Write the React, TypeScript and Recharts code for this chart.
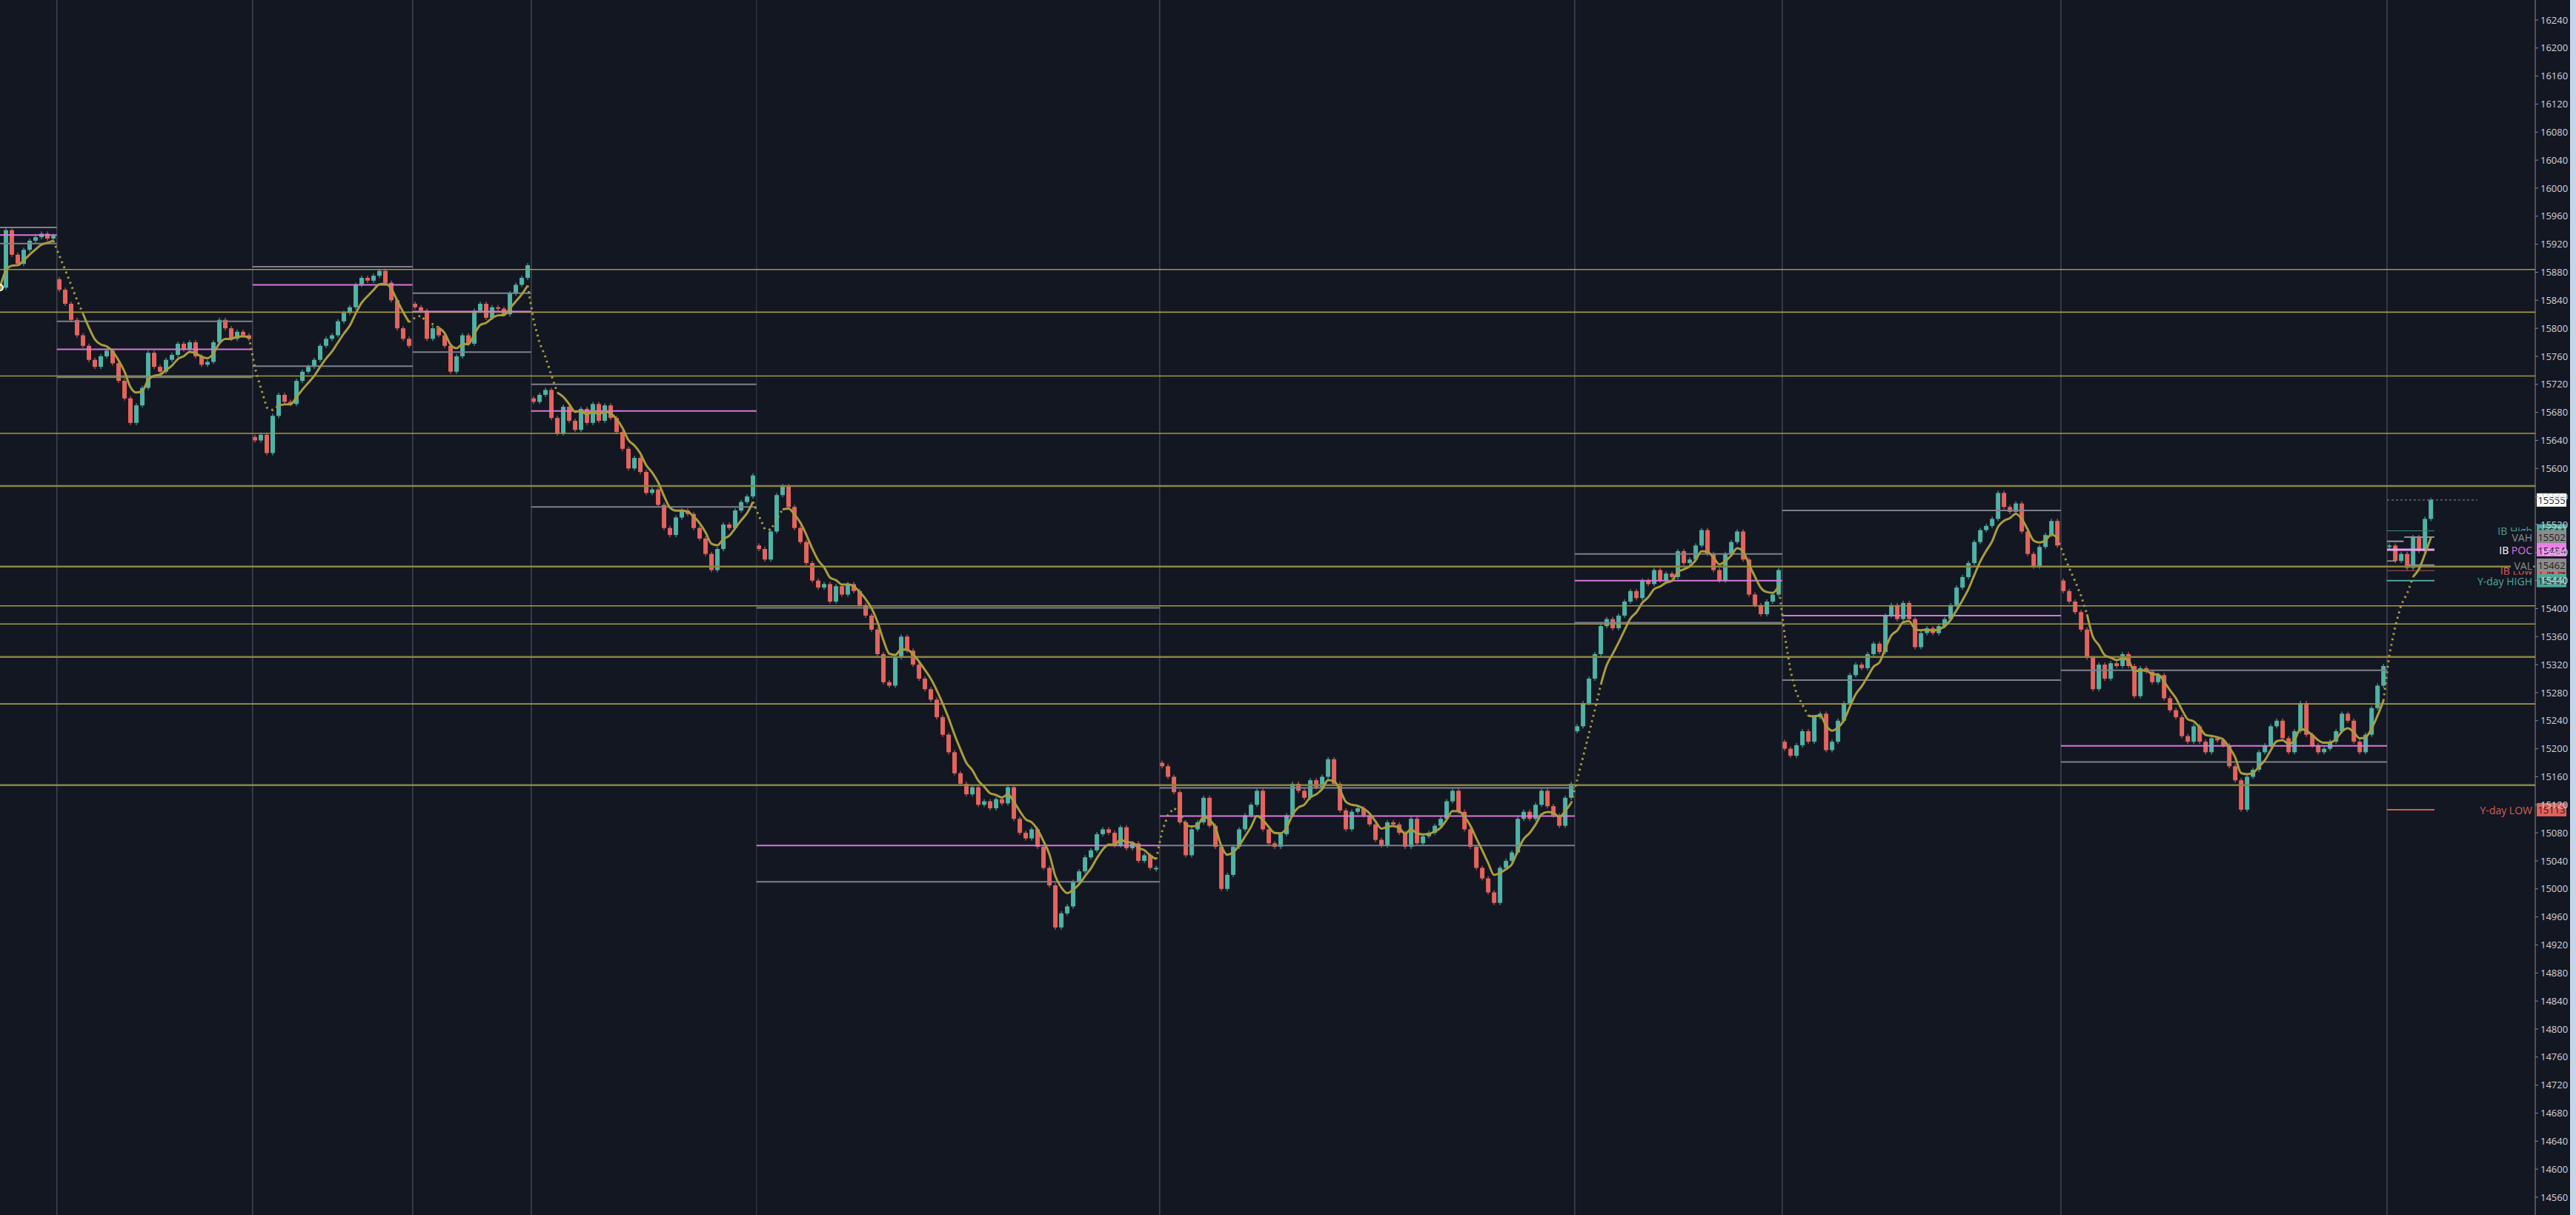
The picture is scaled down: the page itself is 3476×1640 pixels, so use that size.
import React from "react";
import { Bar, ComposedChart, Line, ReferenceLine, XAxis, YAxis } from "recharts";

// closes per session (one value per ~8px of chart)
const session0 = [15858, 15940, 15905, 15892, 15912, 15925, 15930, 15935, 15928, 15932];
const session1 = [15855, 15835, 15812, 15790, 15775, 15755, 15745, 15760, 15768, 15750, 15725, 15700, 15665, 15690, 15715, 15765, 15745, 15738, 15755, 15762, 15778, 15770, 15780, 15760, 15748, 15752, 15780, 15812, 15800, 15785, 15795, 15790, 15785];
const session2 = [15640, 15648, 15622, 15675, 15705, 15695, 15692, 15725, 15738, 15745, 15755, 15775, 15785, 15790, 15810, 15822, 15830, 15862, 15872, 15868, 15875, 15882, 15865, 15840, 15800, 15785, 15775];
const session3 = [15830, 15825, 15785, 15800, 15790, 15775, 15738, 15760, 15790, 15778, 15825, 15835, 15815, 15830, 15828, 15820, 15850, 15862, 15872, 15890];
const session4 = [15695, 15705, 15712, 15672, 15650, 15688, 15668, 15655, 15685, 15665, 15692, 15668, 15690, 15672, 15652, 15628, 15600, 15615, 15595, 15565, 15570, 15548, 15515, 15505, 15530, 15540, 15535, 15515, 15500, 15478, 15455, 15485, 15520, 15515, 15540, 15552, 15560, 15590];
const session5 = [15485, 15470, 15510, 15562, 15575, 15545, 15515, 15495, 15465, 15440, 15430, 15435, 15410, 15432, 15420, 15435, 15425, 15405, 15390, 15370, 15335, 15295, 15290, 15330, 15360, 15340, 15320, 15300, 15285, 15270, 15245, 15220, 15195, 15165, 15150, 15135, 15145, 15120, 15125, 15115, 15128, 15122, 15145, 15100, 15080, 15072, 15085, 15060, 15030, 15005, 14945, 14965, 14975, 15010, 15025, 15045, 15055, 15078, 15085, 15080, 15062, 15088, 15058, 15065, 15040, 15048, 15030, 15030];
const session6 = [15175, 15160, 15138, 15095, 15048, 15085, 15095, 15130, 15090, 15060, 15000, 15020, 15060, 15085, 15105, 15120, 15140, 15085, 15065, 15060, 15078, 15105, 15150, 15140, 15130, 15155, 15145, 15160, 15185, 15150, 15112, 15085, 15110, 15115, 15105, 15092, 15070, 15062, 15095, 15092, 15080, 15060, 15100, 15065, 15075, 15080, 15090, 15100, 15125, 15140, 15110, 15085, 15060, 15030, 15015, 14995, 14980, 15030, 15040, 15052, 15100, 15110, 15100, 15120, 15140, 15118, 15105, 15090, 15130, 15150];
const session7 = [15232, 15265, 15300, 15335, 15375, 15385, 15372, 15390, 15410, 15425, 15415, 15440, 15435, 15455, 15440, 15450, 15445, 15482, 15465, 15470, 15490, 15512, 15478, 15455, 15440, 15478, 15495, 15510, 15470, 15420, 15405, 15392, 15410, 15420, 15455];
const session8 = [15200, 15190, 15205, 15225, 15210, 15245, 15250, 15198, 15210, 15240, 15265, 15305, 15320, 15315, 15335, 15350, 15338, 15390, 15405, 15385, 15408, 15385, 15345, 15365, 15372, 15365, 15375, 15385, 15405, 15430, 15445, 15465, 15495, 15512, 15518, 15528, 15565, 15545, 15538, 15550, 15510, 15478, 15460, 15488, 15505, 15525, 15490];
const session9 = [15425, 15410, 15395, 15370, 15330, 15285, 15320, 15300, 15322, 15318, 15335, 15318, 15275, 15315, 15310, 15295, 15305, 15272, 15255, 15245, 15218, 15210, 15232, 15210, 15195, 15215, 15212, 15205, 15175, 15155, 15113, 15160, 15170, 15195, 15205, 15232, 15240, 15215, 15195, 15225, 15265, 15220, 15205, 15195, 15200, 15210, 15225, 15250, 15240, 15210, 15195, 15220, 15258, 15290, 15318];
const session10 = [15490, 15468, 15478, 15458, 15502, 15482, 15528, 15555];
const sessionOpens = [15862, 15870, 15645, 15835, 15700, 15490, 15180, 15225, 15210, 15440, 15488];

// per finished session: VAH, POC, VAL
const valueAreas = [
  [15944, 15933, 15921],
  [15810, 15770, 15730],
  [15888, 15862, 15746],
  [15850, 15824, 15766],
  [15720, 15682, 15545],
  [15401, 15062, 15010],
  [15144, 15104, 15062],
  [15478, 15440, 15380],
  [15540, 15390, 15298],
  [15312, 15204, 15181],
];
const todayVA = [15502, 15484, 15462];
const ibLevels = [15511, 15454];
const ibBoxMarks = [15496, 15468];
const yDayLevels = [15440, 15113];
const majorLevels = [15575, 15460, 15331, 15148];
const minorLevels = [15884, 15823, 15732, 15650, 15404, 15378, 15264];
const priceTicks = [16240, 16200, 16160, 16120, 16080, 16040, 16000, 15960, 15920, 15880, 15840, 15800, 15760, 15720, 15680, 15640, 15600, 15560, 15520, 15480, 15440, 15400, 15360, 15320, 15280, 15240, 15200, 15160, 15120, 15080, 15040, 15000, 14960, 14920, 14880, 14840, 14800, 14760, 14720, 14680, 14640, 14600, 14560];

const sessions = [session0, session1, session2, session3, session4, session5, session6, session7, session8, session9, session10];

const CHART_W = 3468;
const CHART_H = 1640;
const AXIS_W = 47;
const PLOT_R = CHART_W - AXIS_W;
const X_MAX = 427.6;
const Y_MIN = 14534.6;
const Y_MAX = 16268.5;

const BG = "#131722";
const UP = "#4fb3a5";
const DOWN = "#e5645e";
const MA = "#a99d3d";
const GRAY = "#7e818b";
const PINK = "#d878d8";
const FONT = "'Open Sans', 'Noto Sans', sans-serif";

const starts: number[] = [];
const rows: any[] = [];
sessions.forEach((closes, s) => {
  starts.push(rows.length);
  closes.forEach((c, k) => {
    const open = k === 0 ? sessionOpens[s] : closes[k - 1];
    rows.push({ i: rows.length, open, close: c, body: [Math.min(open, c), Math.max(open, c)], up: c >= open });
  });
});
const lastIdx = rows.length;

// moving average of the closes; drawn dotted right after each session gap
let ema = rows[0].close;
const gap = new Set<number>();
starts.slice(1).forEach((s) => {
  for (let k = s; k < s + 4; k++) gap.add(k);
});
rows.forEach((r, k) => {
  ema = k === 0 ? r.close : ema + 0.3 * (r.close - ema);
  r.maSolid = gap.has(k) ? null : ema;
  r.maDot = gap.has(k) || gap.has(k + 1) || gap.has(k - 1) ? ema : null;
});

const Candle = (props: any) => {
  const { x, y, width, height, payload } = props;
  if (x == null || y == null) return null;
  const top = Math.min(y, y + height);
  const h = Math.max(Math.abs(height), 2);
  const color = payload.up ? UP : DOWN;
  return (
    <g>
      <rect x={x + width / 2 - 0.75} y={top - 3} width={1.5} height={h + 6} fill={color} opacity={0.7} />
      <rect x={x} y={top} width={width} height={h} fill={color} />
    </g>
  );
};

type Part = { t: string; c: string };
const tag = (parts: Part[], box: string, boxText: string, value: number, labelW = 0) => (props: any) => {
  const vb = props.viewBox || {};
  const cy = (vb.y ?? 0) + (vb.height ?? 0) / 2;
  return (
    <g fontFamily={FONT}>
      {parts.length > 0 && labelW > 0 && <rect x={PLOT_R - 3 - labelW} y={cy - 8} width={labelW} height={16} fill={BG} />}
      {parts.length > 0 && (
        <text x={PLOT_R - 4} y={cy} textAnchor="end" dominantBaseline="central" fontSize={14}>
          {parts.map((p, k) => (
            <tspan key={k} fill={p.c}>
              {p.t}
            </tspan>
          ))}
        </text>
      )}
      <rect x={PLOT_R + 2} y={cy - 9} width={40} height={18} fill={box} />
      <text x={PLOT_R + 22} y={cy + 0.5} textAnchor="middle" dominantBaseline="central" fontSize={13} fill={boxText}>
        {value}
      </text>
    </g>
  );
};

const seg = (x1: number, x2: number, y: number) => [
  { x: x1, y },
  { x: x2, y },
];

export default function App() {
  const sEnd = (s: number) => (s + 1 < starts.length ? starts[s + 1] : lastIdx) - 0.4;
  const t0 = starts[10] - 0.4;
  const tEnd = lastIdx - 0.4;
  return (
    <div style={{ position: "fixed", left: 0, top: 0, width: 3476, height: 1640, background: "#c6d6e9" }}>
      <div style={{ width: CHART_W, height: CHART_H, background: BG, fontFamily: FONT }}>
        <ComposedChart width={CHART_W} height={CHART_H} data={rows} margin={{ top: 0, right: 0, bottom: 0, left: 0 }}>
          <XAxis type="number" dataKey="i" domain={[0, X_MAX]} hide allowDataOverflow />
          <YAxis
            orientation="right"
            type="number"
            domain={[Y_MIN, Y_MAX]}
            ticks={priceTicks}
            interval={0}
            width={AXIS_W}
            allowDataOverflow
            tickSize={4}
            tickMargin={3}
            axisLine={{ stroke: "#8a8d96" }}
            tickLine={{ stroke: "#8a8d96" }}
            tick={{ fill: "#d1d4dc", fontSize: 13, fontFamily: FONT }}
          />

          {starts.slice(1).map((s, k) => (
            <ReferenceLine key={`v${k}`} x={s - 0.4} stroke={s === starts[5] ? "#343845" : "#4d5160"} strokeWidth={1.2} ifOverflow="hidden" />
          ))}
          {minorLevels.map((p) => (
            <ReferenceLine key={`mn${p}`} y={p} stroke="#a49a3c" strokeWidth={1.6} ifOverflow="hidden" />
          ))}
          {majorLevels.map((p) => (
            <ReferenceLine key={`mj${p}`} y={p} stroke="#8c8540" strokeWidth={2.5} ifOverflow="hidden" />
          ))}

          {valueAreas.map(([vah, poc, val], s) => [
            <ReferenceLine key={`vah${s}`} segment={seg(starts[s] - 0.4, sEnd(s), vah)} stroke={GRAY} strokeWidth={2} ifOverflow="hidden" />,
            <ReferenceLine key={`poc${s}`} segment={seg(starts[s] - 0.4, sEnd(s), poc)} stroke={PINK} strokeWidth={2} ifOverflow="hidden" />,
            <ReferenceLine key={`val${s}`} segment={seg(starts[s] - 0.4, sEnd(s), val)} stroke={GRAY} strokeWidth={2} ifOverflow="hidden" />,
          ])}

          <ReferenceLine segment={seg(t0, t0 + 2.8, ibBoxMarks[0])} stroke="#9a9ca3" strokeWidth={2} ifOverflow="hidden" />
          <ReferenceLine segment={seg(t0, t0 + 1.5, ibBoxMarks[1])} stroke="#9a9ca3" strokeWidth={1.5} ifOverflow="hidden" />
          <ReferenceLine
            segment={seg(t0, 417.8, session10[session10.length - 1])}
            stroke="#8f929b"
            strokeDasharray="3 3"
            ifOverflow="visible"
            label={tag([], "#ffffff", "#131722", session10[session10.length - 1])}
          />
          <ReferenceLine
            segment={seg(t0, tEnd, ibLevels[0])}
            stroke="#3d8c80"
            strokeWidth={1.2}
            ifOverflow="hidden"
            label={tag([{ t: "IB High", c: "#45a393" }], "#4fa89a", "#15231f", ibLevels[0])}
          />
          <ReferenceLine
            segment={seg(t0 + 2.9, tEnd, todayVA[0])}
            stroke="#8e9097"
            strokeWidth={2}
            ifOverflow="hidden"
            label={tag([{ t: "VAH", c: "#8e8e8e" }], "#8c8c8c", "#1c1c1c", todayVA[0], 32)}
          />
          <ReferenceLine
            segment={seg(t0, tEnd, todayVA[1])}
            stroke="#f09cf0"
            strokeWidth={3}
            ifOverflow="hidden"
            label={tag([{ t: "IB ", c: "#ffffff" }, { t: "POC", c: "#e173e2" }], "#ea80ea", "#1c1c1c", todayVA[1], 50)}
          />
          <ReferenceLine
            segment={seg(t0, tEnd, ibLevels[1])}
            stroke="#8a4a4a"
            strokeWidth={1.2}
            ifOverflow="hidden"
            label={tag([{ t: "IB Low", c: "#e0605a" }], "#e06b66", "#2a1515", ibLevels[1])}
          />
          <ReferenceLine
            segment={seg(t0 + 3.6, tEnd, todayVA[2])}
            stroke="#8e9097"
            strokeWidth={2}
            ifOverflow="hidden"
            label={tag([{ t: "VAL", c: "#8e8e8e" }], "#8c8c8c", "#1c1c1c", todayVA[2], 30)}
          />
          <ReferenceLine
            segment={seg(t0, tEnd, yDayLevels[0])}
            stroke="#4fa89a"
            strokeWidth={2}
            ifOverflow="hidden"
            label={tag([{ t: "Y-day HIGH", c: "#4fa89a" }], "#4fa89a", "#15231f", yDayLevels[0], 76)}
          />
          <ReferenceLine
            segment={seg(t0, tEnd, yDayLevels[1])}
            stroke="#d0605a"
            strokeWidth={2}
            ifOverflow="hidden"
            label={tag([{ t: "Y-day LOW", c: "#d0605a" }], "#e0625a", "#2a1515", yDayLevels[1])}
          />

          <Bar dataKey="body" barSize={6} shape={Candle} isAnimationActive={false} />
          <Line type="monotone" dataKey="maSolid" stroke={MA} strokeWidth={3} dot={false} isAnimationActive={false} connectNulls={false} />
          <Line type="linear" dataKey="maDot" stroke={MA} strokeWidth={3} strokeDasharray="2.5 5" dot={false} isAnimationActive={false} connectNulls={false} />
        </ComposedChart>
      </div>
    </div>
  );
}
